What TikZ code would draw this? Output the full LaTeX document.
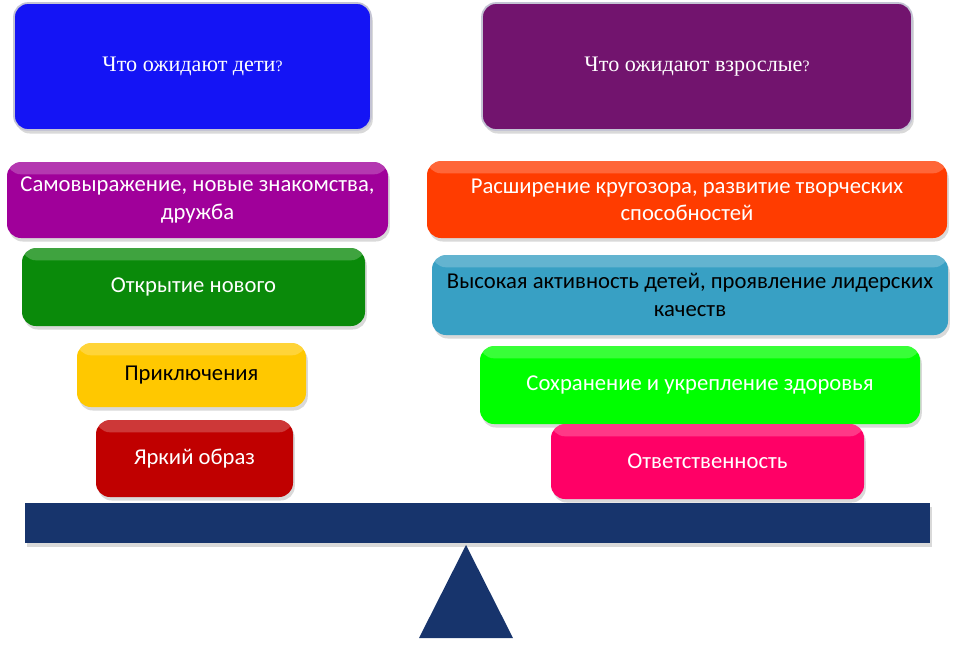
\documentclass[tikz,border=0pt]{standalone}
\usepackage{fontspec}
\setmainfont{Carlito}
\newfontfamily\headfont{Liberation Serif}
\usetikzlibrary{shadows}
\definecolor{kidsblue}{RGB}{20,20,245}
\definecolor{adultpurple}{RGB}{114,20,110}
\definecolor{selfpurple}{RGB}{160,0,154}
\definecolor{opengreen}{RGB}{10,138,10}
\definecolor{advyellow}{RGB}{255,200,0}
\definecolor{imagered}{RGB}{192,0,0}
\definecolor{mindorange}{RGB}{255,60,0}
\definecolor{activeteal}{RGB}{56,160,196}
\definecolor{healthgreen}{RGB}{0,255,0}
\definecolor{dutypink}{RGB}{255,0,102}
\definecolor{beamnavy}{RGB}{23,52,108}

\begin{document}
\begin{tikzpicture}[x=0.02cm,y=-0.02cm,
	every node/.style={align=center},
	box/.style={rounded corners=8pt, font=\fontsize{12.9}{15.5}\selectfont, text=white,
		drop shadow={opacity=0.3, shadow xshift=1pt, shadow yshift=-2pt},
		path picture={\fill[white,opacity=0.22] (path picture bounding box.north west) rectangle ([yshift=-7pt]path picture bounding box.north east);}},
	head/.style={rounded corners=8pt, draw=blue!15!gray!40, line width=1pt,
		font=\headfont\fontsize{12.6}{15}\selectfont, text=white,
		drop shadow={opacity=0.3, shadow xshift=1pt, shadow yshift=-2pt}}]
	%% frame of the page
	\useasboundingbox (0,0) rectangle (957,647);

	% the two questions
	\node[head, fill=kidsblue, minimum width=357*0.02cm, minimum height=127*0.02cm] (kids) at (192.5,66.5) {\raisebox{3pt}{Что ожидают дети{\small ?}}};
	\node[head, fill=adultpurple, minimum width=430*0.02cm, minimum height=127*0.02cm] (adults) at (697,66.5) {\raisebox{3pt}{Что ожидают взрослые{\small ?}}};

	% left pan
	\node[box, fill=selfpurple, minimum width=381*0.02cm, minimum height=76*0.02cm] (self) at (197.5,200) {Самовыражение, новые знакомства,\\ дружба};
	\node[box, fill=opengreen, minimum width=343*0.02cm, minimum height=78*0.02cm] (open) at (193.5,287) {Открытие нового};
	\node[box, fill=advyellow, text=black, minimum width=229*0.02cm, minimum height=64*0.02cm] (adv) at (191.5,375) {Приключения};
	\node[box, fill=imagered, minimum width=197*0.02cm, minimum height=77*0.02cm] (image) at (194.5,458.5) {Яркий образ};

	% right pan
	\node[box, fill=mindorange, minimum width=520*0.02cm, minimum height=77*0.02cm] (mind) at (687,199.5) {Расширение кругозора, развитие творческих\\ способностей};
	\node[box, fill=activeteal, text=black, minimum width=516*0.02cm, minimum height=80*0.02cm] (active) at (690,295) {Высокая активность детей, проявление лидерских\\ качеств};
	\node[box, fill=healthgreen, minimum width=440*0.02cm, minimum height=78*0.02cm] (health) at (700,385) {Сохранение и укрепление здоровья};
	\node[box, fill=dutypink, minimum width=313*0.02cm, minimum height=75*0.02cm] (duty) at (707.5,461.5) {Ответственность};

	% the scales
	\fill[beamnavy, drop shadow={opacity=0.3, shadow xshift=1pt, shadow yshift=-2pt}] (25,503) rectangle (930,543);
	\fill[beamnavy] (466,545) -- (513,638) -- (419,638) -- cycle;
\end{tikzpicture}
\end{document}
